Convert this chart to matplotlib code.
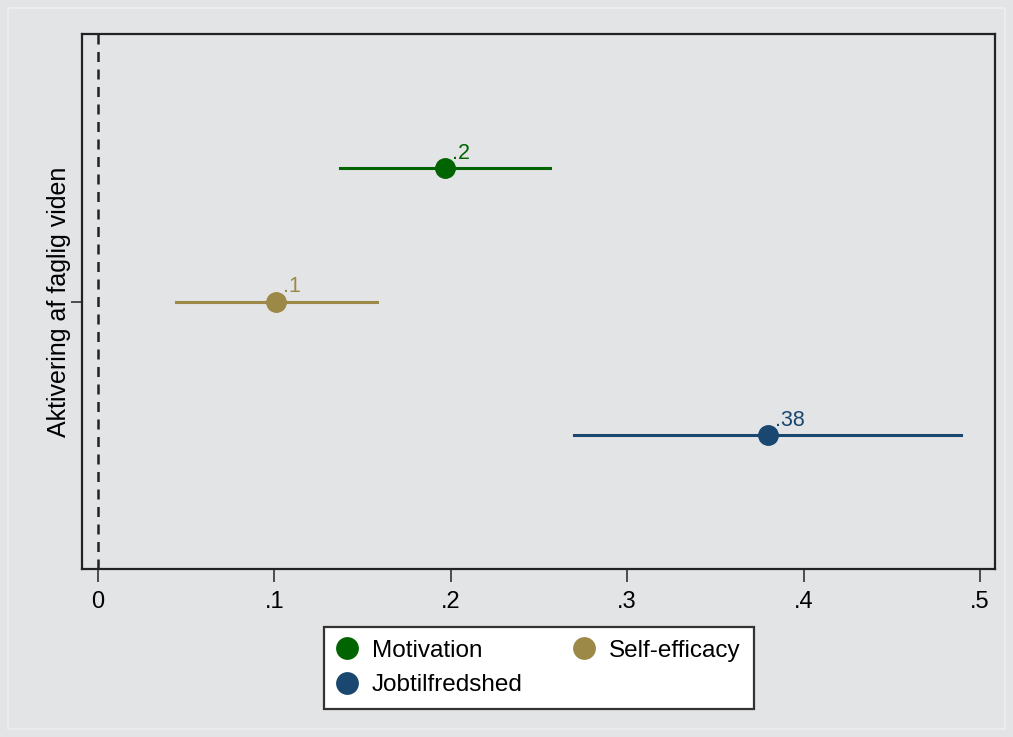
import numpy as np
import matplotlib.pyplot as plt
from matplotlib.patches import Rectangle

# coefficients and confidence intervals
series = ['Motivation', 'Self-efficacy', 'Jobtilfredshed']
coef = [0.197, 0.101, 0.380]
ci_low = [0.137, 0.044, 0.270]
ci_high = [0.256, 0.158, 0.489]
labels = ['.2', '.1', '.38']
offsets = [1, 0, -1]
colors = ['#006400', '#9C8847', '#1A476F']

xticks = [0, 0.1, 0.2, 0.3, 0.4, 0.5]
xticklabels = ['0', '.1', '.2', '.3', '.4', '.5']

bg = '#E3E4E6'
plt.rcParams['font.family'] = ['Liberation Sans', 'DejaVu Sans']

fig = plt.figure(figsize=(10.13, 7.37), dpi=100, facecolor=bg)
ax = fig.add_axes([82/1013, 1 - 569/737, (995-82)/1013, (569-34)/737])
ax.set_facecolor(bg)

# faint outer frame
fig.patches.append(Rectangle((8/1013, 8/737), 1 - 16/1013, 1 - 16/737, transform=fig.transFigure,
                             fill=False, edgecolor='#EEEEEF', linewidth=1.2))

ax.axvline(0, color='#222222', linestyle=(0, (4, 3)), linewidth=1.8, zorder=1)

handles = []
for name, c, lo, hi, lab, off, col in zip(series, coef, ci_low, ci_high, labels, offsets, colors):
    ax.plot([lo, hi], [off, off], color=col, linewidth=2.2, zorder=2)
    h, = ax.plot(c, off, 'o', color=col, markersize=14, zorder=3, label=name)
    handles.append(h)
    ax.annotate(lab, (c, off), xytext=(5, 3), textcoords='offset points',
                color=col, fontsize=15.5, ha='left', va='bottom')

ax.set_xlim(-0.009, 0.5085)
ax.set_ylim(-2, 2)
ax.set_xticks(xticks)
ax.set_xticklabels(xticklabels, fontsize=17)
ax.set_yticks([0])
ax.set_yticklabels(['Aktivering af faglig viden'], rotation=90, va='center', fontsize=18)
ax.tick_params(axis='x', length=9, width=1.2, color='#333333', pad=7)
ax.tick_params(axis='y', length=8, width=1.2, color='#333333', pad=0)
for s in ax.spines.values():
    s.set_color('#222222')
    s.set_linewidth(1.6)

# row-major order like the reference: Motivation, Self-efficacy / Jobtilfredshed
order = [0, 2, 1]
leg = fig.legend(handles=[handles[i] for i in order], labels=[series[i] for i in order],
                 ncol=2, loc='center', bbox_to_anchor=(539/1013, 1 - 668/737),
                 frameon=True, fancybox=False, fontsize=17.5, markerscale=1.1,
                 handlelength=0.8, handletextpad=0.6, columnspacing=2.15,
                 borderpad=0.55, labelspacing=0.5)
leg.get_frame().set_edgecolor('#333333')
leg.get_frame().set_linewidth(1.6)
leg.get_frame().set_facecolor('white')
leg.get_frame().set_alpha(1)

fig.savefig('out.png', dpi=100, facecolor=bg)
